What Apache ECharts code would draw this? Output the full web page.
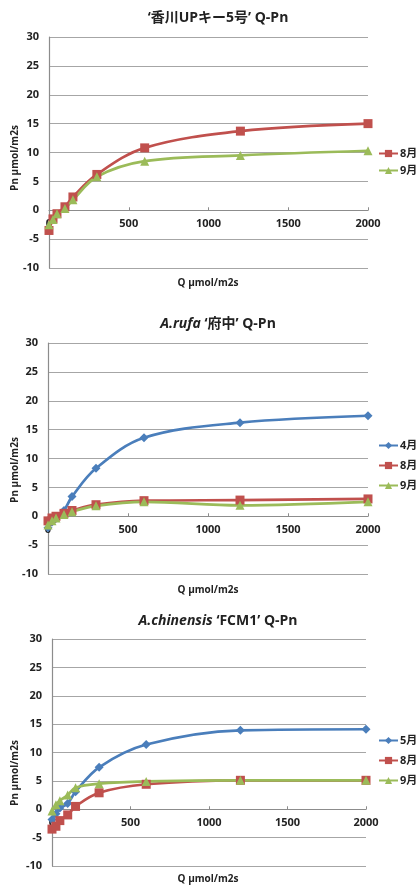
<!DOCTYPE html>
<html>
<head>
<meta charset="utf-8">
<script src="https://cdn.jsdelivr.net/npm/echarts@6/dist/echarts.min.js"></script>
<style>
  html, body { margin: 0; padding: 0; background: #fff; }
  #main { width: 416px; height: 885px; }
</style>
</head>
<body>
<div id="main"></div>
<script>
// 光强 Q (μmol/m2s)
var qValues = [0, 25, 50, 100, 150, 300, 600, 1200, 2000];
var yTicks = [-10, -5, 0, 5, 10, 15, 20, 25, 30];
var xTicks = [0, 500, 1000, 1500, 2000];

// '香川UPキー5号'
var kagawaAug = [-3.5, -1.5, -0.6, 0.6, 2.3, 6.2, 10.8, 13.7, 15.0];
var kagawaSep = [-2.5, -1.6, -0.6, 0.3, 1.8, 5.8, 8.5, 9.5, 10.3];

// A.rufa '府中'
var rufaApr = [-2.0, -1.0, -0.3, 1.0, 3.4, 8.3, 13.6, 16.2, 17.4];
var rufaAug = [-0.8, -0.3, 0.0, 0.5, 1.0, 2.0, 2.7, 2.8, 3.0];
var rufaSep = [-1.5, -0.8, -0.3, 0.3, 0.8, 1.8, 2.5, 1.9, 2.5];

// A.chinensis 'FCM1'
var chinMay = [-1.8, -0.8, 0.2, 1.0, 3.1, 7.4, 11.4, 13.9, 14.1];
var chinAug = [-3.5, -3.0, -2.0, -1.0, 0.5, 2.9, 4.4, 5.1, 5.1];
var chinSep = [-0.3, 0.8, 1.5, 2.5, 3.8, 4.5, 4.9, 5.1, 5.1];

var FONT = "'Open Sans', 'Noto Sans CJK JP', sans-serif";
var BLUE = '#4a7ebb', RED = '#c0504d', GREEN = '#9bbb59';

function pairs(arr) {
    return qValues.map(function (q, i) { return [q, arr[i]]; });
}

function mkSeries(name, arr, idx, color, symbol, size) {
    return {
        name: name, type: 'line', smooth: 0.35,
        xAxisIndex: idx, yAxisIndex: idx,
        data: pairs(arr),
        symbol: symbol, symbolSize: size,
        itemStyle: { color: color },
        lineStyle: { color: color, width: 2.7 },
        z: 3
    };
}

// 三个图的位置
var grids = [
    { left: 49, right: 48, top: 37, height: 231 },
    { left: 48, right: 48, top: 343, height: 231 },
    { left: 52, right: 50, top: 639, height: 227 }
];

var xAxes = [], yAxes = [];
grids.forEach(function (g, i) {
    // x轴放在 0 的位置
    var zeroOffset = -g.height * 10 / 40;
    xAxes.push({
        type: 'value', gridIndex: i, min: xTicks[0], max: xTicks[xTicks.length - 1], interval: 500,
        position: 'bottom', offset: zeroOffset,
        axisLine: { onZero: false, lineStyle: { color: '#8c8c8c', width: 1.2 } },
        axisTick: { show: true, inside: true, length: 3, lineStyle: { color: '#8c8c8c' } },
        splitLine: { show: false },
        axisLabel: {
            color: '#222', fontSize: 11, fontWeight: 'bold', fontFamily: FONT, margin: 8,
            showMinLabel: true, hideOverlap: false,
            formatter: function (v) { return String(v); }
        }
    });
    yAxes.push({
        type: 'value', gridIndex: i, min: yTicks[0], max: yTicks[yTicks.length - 1], interval: 5,
        axisLine: { show: true, onZero: false, lineStyle: { color: '#8c8c8c', width: 1.2 } },
        axisTick: { show: false },
        splitLine: { lineStyle: { color: '#a6a6a6', width: 1.2 } },
        axisLabel: { color: '#222', fontSize: 11, fontWeight: 'bold', fontFamily: FONT, margin: 10 }
    });
});

var titleRich = {
    i: { fontStyle: 'italic', fontWeight: 'bold', fontSize: 14, fontFamily: FONT, color: '#222' }
};
function mkTitle(text, top) {
    return {
        text: text, left: 213, top: top, textAlign: 'center',
        textStyle: { fontSize: 14, fontWeight: 'bold', fontFamily: FONT, color: '#222', rich: titleRich }
    };
}

function mkLegend(names, top, gap) {
    return {
        data: names, orient: 'vertical', left: 373, top: top,
        itemWidth: 19, itemHeight: 9, itemGap: gap,
        textStyle: { fontSize: 11, fontWeight: 'bold', fontFamily: FONT, color: '#222', padding: [0, 0, 0, -3] }
    };
}

function axisText(x, y, text, rotate) {
    return {
        type: 'text', x: x, y: y, rotation: rotate ? Math.PI / 2 : 0,
        style: {
            text: text, fill: '#222', font: 'bold 10px ' + FONT,
            align: 'center', verticalAlign: 'middle'
        }
    };
}

var option = {
    backgroundColor: '#fff',
    animation: false,
    title: [
        mkTitle('‘香川UPキー5号’ Q-Pn', 6),
        mkTitle('{i|A.rufa} ‘府中’ Q-Pn', 312),
        mkTitle('{i|A.chinensis} ‘FCM1’ Q-Pn', 609)
    ],
    legend: [
        mkLegend(['8月', '9月'], 143, 6),
        mkLegend(['4月', '8月 ', '9月 '], 435, 9),
        mkLegend(['5月', '8月  ', '9月  '], 730, 9)
    ],
    grid: grids,
    xAxis: xAxes,
    yAxis: yAxes,
    graphic: [
        axisText(15, 158, 'Pn μmol/m2s', true),
        axisText(208, 283, 'Q μmol/m2s', false),
        axisText(15, 470, 'Pn μmol/m2s', true),
        axisText(208, 590, 'Q μmol/m2s', false),
        axisText(15, 773, 'Pn μmol/m2s', true),
        axisText(208, 879, 'Q μmol/m2s', false)
    ],
    series: [
        mkSeries('8月', kagawaAug, 0, RED, 'rect', 9),
        mkSeries('9月', kagawaSep, 0, GREEN, 'triangle', 9),
        mkSeries('4月', rufaApr, 1, BLUE, 'diamond', 9),
        mkSeries('8月 ', rufaAug, 1, RED, 'rect', 9),
        mkSeries('9月 ', rufaSep, 1, GREEN, 'triangle', 9),
        mkSeries('5月', chinMay, 2, BLUE, 'diamond', 9),
        mkSeries('8月  ', chinAug, 2, RED, 'rect', 9),
        mkSeries('9月  ', chinSep, 2, GREEN, 'triangle', 9)
    ]
};

var myChart = echarts.init(document.getElementById('main'));
myChart.setOption(option);
</script>
</body>
</html>
